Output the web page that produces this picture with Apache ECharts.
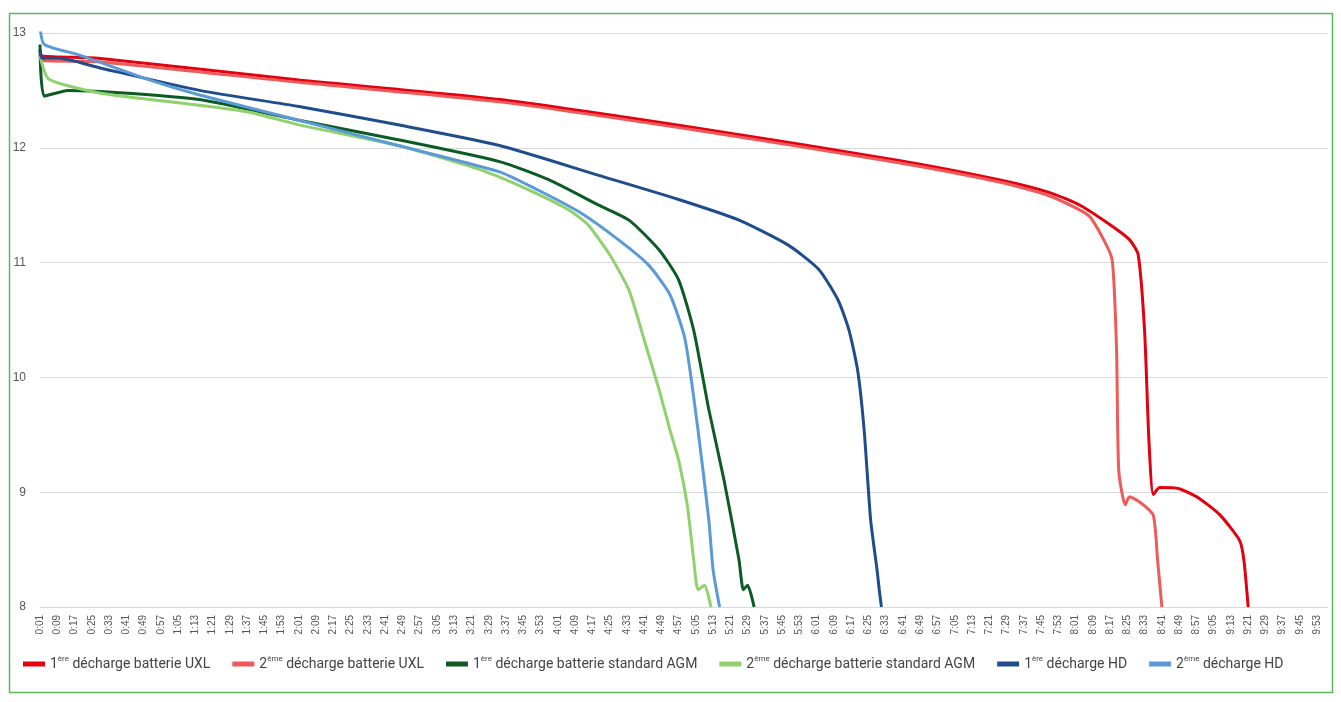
<!DOCTYPE html>
<html>
<head>
<meta charset="utf-8">
<script src="https://cdn.jsdelivr.net/npm/echarts@6/dist/echarts.min.js"></script>
<style>html,body{margin:0;padding:0;background:#fff}#main{width:1341px;height:702px}</style>
</head>
<body>
<div id="main"></div>
<script>
// minutes elapsed -> voltage
var uxl1 = [[1,12.85],[2,12.8],[28,12.78],[121,12.59],[214,12.42],[306,12.17],[399,11.89],[446,11.72],[469,11.61],[483,11.5],[497,11.33],[506,11.2],[510,11.07],[513,10.4],[515,9.45],[517,8.98],[520,9.04],[529,9.03],[538,8.95],[548,8.8],[557,8.58],[559,8.41],[561,8.0]];
var uxl2 = [[1,12.8],[2,12.76],[28,12.75],[121,12.57],[214,12.4],[306,12.15],[399,11.87],[446,11.7],[469,11.58],[487,11.41],[494,11.2],[498,11.02],[500,10.24],[501,9.19],[504,8.89],[506,8.96],[511,8.91],[517,8.8],[519,8.41],[521,8.0]];
var agm1 = [[1,12.9],[3,12.45],[14,12.5],[38,12.48],[75,12.42],[121,12.24],[167,12.07],[214,11.88],[237,11.72],[260,11.5],[274,11.37],[288,11.11],[297,10.85],[304,10.41],[311,9.72],[318,9.11],[325,8.41],[327,8.15],[329,8.19],[332,8.0]];
var agm2 = [[1,12.8],[5,12.6],[28,12.48],[75,12.37],[98,12.31],[121,12.2],[167,12.02],[205,11.81],[228,11.63],[246,11.46],[255,11.33],[265,11.07],[274,10.76],[281,10.33],[288,9.89],[293,9.54],[297,9.28],[301,8.89],[304,8.41],[306,8.15],[309,8.19],[312,8.0]];
var hd1 = [[1,12.85],[2,12.78],[10,12.78],[28,12.7],[75,12.5],[121,12.36],[167,12.2],[214,12.02],[260,11.76],[297,11.55],[325,11.37],[348,11.15],[362,10.94],[371,10.67],[376,10.41],[380,10.06],[383,9.54],[386,8.76],[389,8.32],[390,8.15],[391,8.0]];
var hd2 = [[1,13.05],[3,12.9],[19,12.81],[52,12.59],[75,12.46],[121,12.24],[167,12.02],[214,11.79],[232,11.63],[251,11.44],[269,11.2],[283,10.98],[293,10.72],[300,10.33],[306,9.54],[311,8.76],[313,8.32],[316,8.0]];

var seriesNames = ['1ère décharge batterie UXL', '2ème décharge batterie UXL', '1ère décharge batterie standard AGM', '2ème décharge batterie standard AGM', '1ère décharge HD', '2ème décharge HD'];
var colors = ['#e3000f', '#ef5a5a', '#0d5b24', '#8fd16c', '#1f4d8c', '#5a9ad6'];
var lastMinute = 598;

var times = [];
for (var m = 1; m <= lastMinute; m++) {
  times.push(Math.floor(m / 60) + ':' + (m % 60 < 10 ? '0' : '') + (m % 60));
}
function toCat(arr) {
  return arr.map(function (p) { return [p[0] - 1, p[1]]; });
}

var myChart = echarts.init(document.getElementById('main'));

var option = {
  backgroundColor: '#fff',
  graphic: [{
    type: 'rect', left: 7, top: 11,
    shape: {width: 1323, height: 679},
    style: {fill: 'none', stroke: '#5cb85c', lineWidth: 1.5}
  }],
  grid: {left: 40, right: 13, top: 33, bottom: 95},
  legend: {
    bottom: 26, left: 18, right: 10, itemGap: 22, itemWidth: 22, itemHeight: 5, icon: 'rect',
    data: seriesNames,
    formatter: function (name) {
      var i = name.indexOf(' ');
      return '{n|' + name.charAt(0) + '}{s|' + name.slice(1, i) + '}{n| ' + name.slice(i + 1) + '}';
    },
    textStyle: {
      rich: {
        n: {fontSize: 14, color: '#444', fontFamily: 'Roboto', lineHeight: 18},
        s: {fontSize: 8, color: '#444', fontFamily: 'Roboto', lineHeight: 18, verticalAlign: 'top'}
      }
    }
  },
  xAxis: {
    type: 'category',
    data: times,
    boundaryGap: false,
    axisLine: {lineStyle: {color: '#d9d9d9'}},
    axisTick: {show: false},
    axisLabel: {interval: 7, rotate: 90, color: '#555', fontSize: 10, fontFamily: 'Liberation Sans', margin: 8}
  },
  yAxis: {
    type: 'value', min: 8, max: 13, interval: 1,
    axisLine: {show: false}, axisTick: {show: false},
    axisLabel: {color: '#555', fontSize: 12, margin: 14},
    splitLine: {lineStyle: {color: '#d9d9d9'}}
  },
  series: [uxl1, uxl2, agm1, agm2, hd1, hd2].map(function (d, i) {
    return {
      name: seriesNames[i], type: 'line', data: toCat(d),
      showSymbol: false, smooth: 0.2,
      lineStyle: {color: colors[i], width: 3},
      itemStyle: {color: colors[i]}
    };
  })
};

myChart.setOption(option);
</script>
</body>
</html>
